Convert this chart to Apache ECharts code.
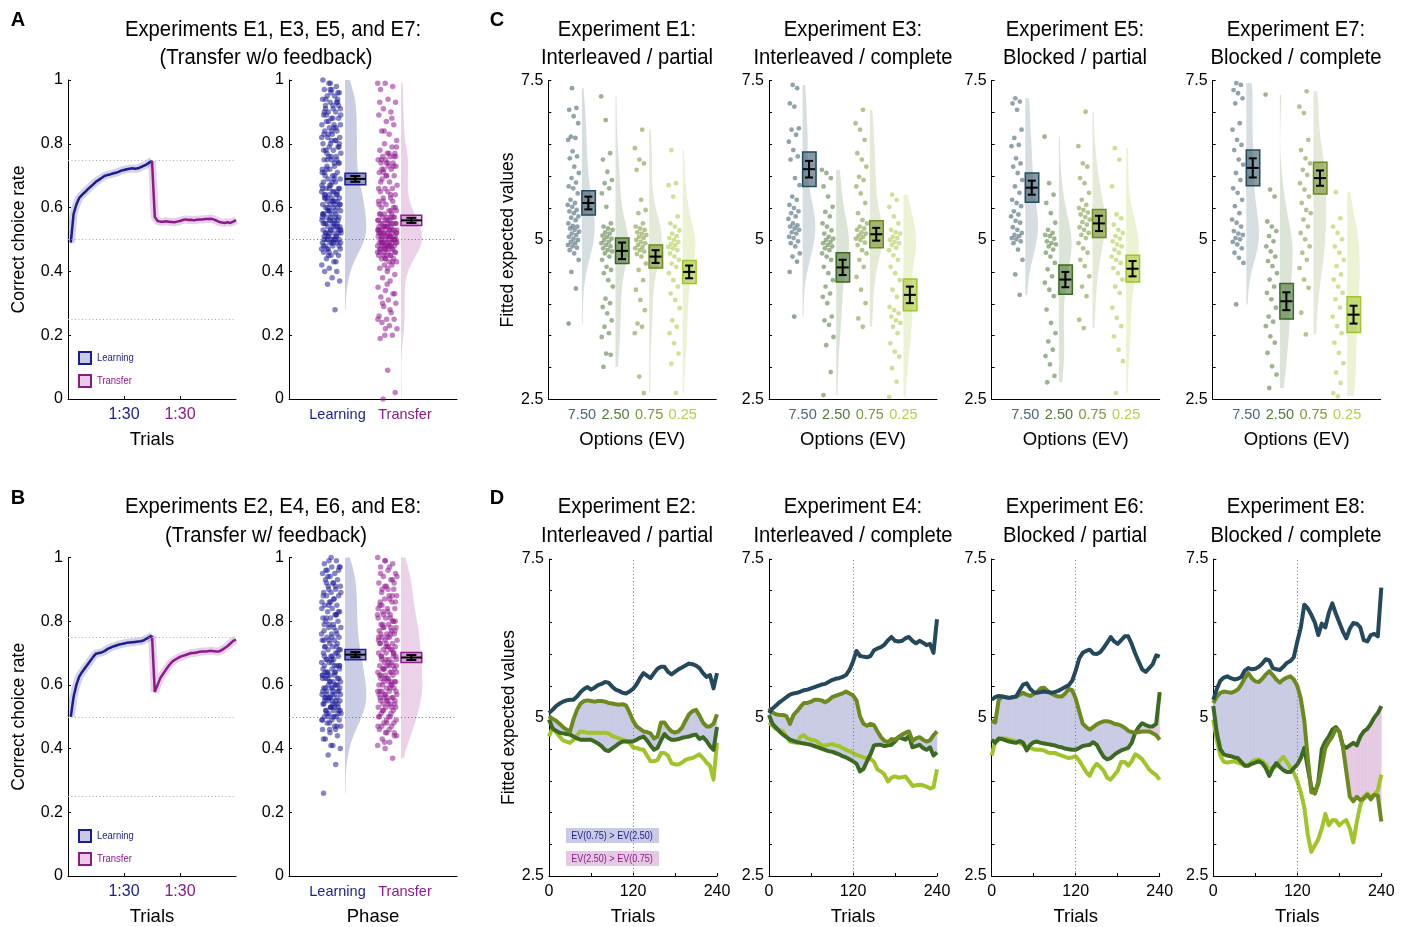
<!DOCTYPE html>
<html>
<head>
<meta charset="utf-8">
<script src="https://cdn.jsdelivr.net/npm/echarts@6/dist/echarts.min.js"></script>
<style>
html,body{margin:0;padding:0;background:#fff;}
#chart{width:1409px;height:927px;}
</style>
</head>
<body>
<div id="chart"></div>
<script>
// ---------- Panel A / B: mean correct choice rate per trial ----------
// learning trials 1..30, transfer trials 1..30 (plotted at 31..60)
const curveA_learning = [0.490,0.580,0.610,0.630,0.640,0.648,0.657,0.665,0.673,0.681,0.687,0.693,0.699,0.702,0.704,0.707,0.709,0.712,0.716,0.718,0.720,0.722,0.723,0.722,0.723,0.727,0.731,0.735,0.741,0.746];
const curveA_transfer = [0.571,0.558,0.556,0.556,0.557,0.556,0.555,0.554,0.556,0.558,0.561,0.563,0.561,0.562,0.560,0.562,0.563,0.563,0.564,0.564,0.565,0.563,0.559,0.555,0.553,0.552,0.554,0.552,0.556,0.561];
const curveB_learning = [0.500,0.563,0.600,0.626,0.640,0.652,0.664,0.676,0.688,0.698,0.700,0.702,0.706,0.712,0.716,0.720,0.723,0.726,0.728,0.730,0.732,0.733,0.734,0.735,0.736,0.737,0.740,0.745,0.750,0.755];
const curveB_transfer = [0.578,0.600,0.622,0.635,0.648,0.660,0.671,0.678,0.683,0.688,0.691,0.694,0.697,0.700,0.700,0.702,0.704,0.705,0.705,0.706,0.707,0.706,0.705,0.705,0.710,0.716,0.722,0.730,0.738,0.742];

// ---------- Panel A / B: per-participant correct choice rates ----------
const rateA_learning = [0.99,0.98,0.97,0.97,0.96,0.95,0.95,0.94,0.93,0.93,0.92,0.92,0.91,0.90,0.90,0.89,0.88,0.88,0.87,0.86,0.86,0.85,0.84,0.84,0.83,0.82,0.82,0.81,0.80,0.80,0.79,0.78,0.78,0.77,0.76,0.76,0.75,0.75,0.74,0.73,0.73,0.72,0.72,0.71,0.70,0.70,0.69,0.69,0.68,0.68,0.67,0.66,0.66,0.65,0.65,0.64,0.64,0.64,0.63,0.63,0.62,0.62,0.61,0.61,0.60,0.60,0.60,0.59,0.59,0.58,0.58,0.58,0.57,0.57,0.56,0.56,0.56,0.55,0.55,0.55,0.54,0.54,0.54,0.53,0.53,0.53,0.52,0.52,0.52,0.51,0.51,0.51,0.50,0.50,0.50,0.50,0.49,0.49,0.49,0.48,0.48,0.47,0.47,0.46,0.46,0.45,0.45,0.44,0.43,0.42,0.41,0.40,0.40,0.38,0.37,0.36,0.28,1.00,0.99,0.96,0.94,0.91,0.89,0.87,0.85,0.83,0.81,0.79,0.77,0.74,0.71,0.67,0.65,0.63,0.62,0.61,0.59,0.57,0.55,0.53,0.52,0.50,0.49,0.47,0.46,0.93,0.90,0.84,0.80,0.75,0.70,0.66,
  0.97,0.94,0.91,0.88,0.86,0.83,0.81,0.78,0.76,0.74,0.72,0.69,0.67,0.66,0.64,0.63,0.62,0.61,0.60,0.59,0.58,0.57,0.56,0.55,0.54,0.53,0.52,0.51,0.50,0.49,0.48,0.47,0.55,0.57,0.59,0.62,0.64,0.65,0.53,0.51,0.50,0.48,0.96,0.92,0.89,0.85,0.82,0.79,0.75,0.71,0.68,0.66,0.63,0.61,0.58,0.56,0.54,0.52,0.50,0.49,0.45,0.43];
const rateA_transfer = [0.99,0.99,0.98,0.97,0.94,0.93,0.91,0.90,0.89,0.87,0.86,0.84,0.83,0.81,0.80,0.79,0.78,0.77,0.77,0.76,0.76,0.75,0.75,0.74,0.74,0.73,0.73,0.72,0.72,0.71,0.70,0.70,0.69,0.68,0.67,0.66,0.66,0.65,0.65,0.64,0.63,0.63,0.62,0.61,0.60,0.60,0.59,0.59,0.58,0.58,0.58,0.57,0.57,0.57,0.56,0.56,0.56,0.55,0.55,0.55,0.55,0.54,0.54,0.54,0.54,0.53,0.53,0.53,0.53,0.52,0.52,0.52,0.52,0.51,0.51,0.51,0.51,0.50,0.50,0.50,0.50,0.50,0.49,0.49,0.49,0.49,0.48,0.48,0.48,0.48,0.47,0.47,0.47,0.46,0.46,0.46,0.45,0.45,0.45,0.44,0.44,0.43,0.43,0.42,0.42,0.41,0.40,0.39,0.38,0.37,0.35,0.34,0.33,0.32,0.31,0.30,0.29,0.27,0.26,0.25,0.25,0.24,0.23,0.22,0.20,0.20,0.19,0.09,0.02,0.00,0.55,0.53,0.51,0.50,0.49,0.48,0.52,0.54,0.47,0.46,0.56,0.50,0.49,0.51,0.53,0.44,0.62,0.68,0.74,0.76,0.71,0.57,0.52,0.48,
  0.50,0.51,0.49,0.52,0.48,0.53,0.47,0.54,0.46,0.55,0.45,0.56,0.44,0.57,0.50,0.51,0.49,0.52,0.48,0.53,0.47,0.50,0.49,0.51,0.46,0.54,0.43,0.58,0.41,0.60,0.62,0.64,0.66,0.70,0.73,0.75,0.77,0.79,0.84,0.88,0.93,0.36,0.33,0.30,0.28,0.25,0.22,0.50,0.52,0.48,0.55,0.45,0.59,0.61,0.74,0.76,0.72,0.53,0.49,0.47];
const rateB_learning = [0.99,0.99,0.98,0.97,0.97,0.96,0.95,0.95,0.94,0.93,0.93,0.92,0.91,0.91,0.90,0.89,0.89,0.88,0.88,0.87,0.86,0.86,0.85,0.85,0.84,0.83,0.83,0.82,0.81,0.81,0.80,0.80,0.79,0.78,0.78,0.77,0.77,0.76,0.75,0.75,0.74,0.74,0.73,0.73,0.72,0.72,0.71,0.71,0.70,0.70,0.69,0.69,0.68,0.68,0.67,0.67,0.66,0.66,0.65,0.65,0.64,0.64,0.63,0.63,0.62,0.62,0.61,0.61,0.60,0.60,0.59,0.59,0.58,0.58,0.57,0.57,0.56,0.56,0.56,0.55,0.55,0.55,0.54,0.54,0.53,0.53,0.52,0.52,0.51,0.51,0.50,0.50,0.49,0.49,0.48,0.47,0.46,0.45,0.44,0.43,0.41,0.40,0.38,0.35,0.26,1.00,0.96,0.92,0.87,0.84,0.79,0.76,0.72,0.69,0.66,0.63,0.60,0.58,0.56,0.54,0.52,0.50,0.47,0.90,0.82,0.74,0.68,0.62,0.57,0.53,0.49,0.46,0.70,0.64,0.59,
  0.97,0.94,0.91,0.88,0.86,0.83,0.81,0.78,0.76,0.74,0.72,0.69,0.67,0.66,0.64,0.63,0.62,0.61,0.60,0.59,0.58,0.57,0.56,0.55,0.54,0.53,0.52,0.51,0.50,0.49,0.48,0.47,0.55,0.57,0.59,0.62,0.64,0.65,0.53,0.51,0.96,0.92,0.89,0.85,0.82,0.79,0.75,0.71,0.68,0.66,0.63,0.61,0.58,0.56,0.54,0.52,0.50,0.46,0.43,0.41];
const rateB_transfer = [1.00,0.99,0.98,0.97,0.96,0.95,0.94,0.93,0.92,0.91,0.90,0.89,0.88,0.88,0.87,0.86,0.85,0.84,0.84,0.83,0.82,0.81,0.81,0.80,0.79,0.79,0.78,0.78,0.77,0.77,0.76,0.76,0.75,0.75,0.74,0.74,0.73,0.73,0.72,0.72,0.71,0.71,0.70,0.70,0.69,0.69,0.68,0.68,0.67,0.67,0.66,0.66,0.65,0.65,0.64,0.64,0.63,0.63,0.62,0.62,0.61,0.61,0.60,0.60,0.59,0.59,0.58,0.58,0.57,0.57,0.56,0.56,0.55,0.55,0.54,0.54,0.53,0.53,0.52,0.51,0.50,0.49,0.48,0.47,0.46,0.45,0.44,0.43,0.42,0.41,0.40,0.37,0.95,0.90,0.86,0.82,0.78,0.75,0.73,0.70,0.68,0.66,0.64,0.62,0.60,0.58,0.56,0.54,0.52,0.50,0.47,0.45,0.80,0.76,0.72,0.69,0.65,0.61,0.57,0.55,0.92,0.85,
  0.97,0.94,0.91,0.88,0.86,0.83,0.80,0.78,0.76,0.74,0.72,0.70,0.69,0.67,0.66,0.65,0.64,0.63,0.62,0.61,0.60,0.59,0.58,0.57,0.56,0.55,0.54,0.53,0.52,0.51,0.50,0.49,0.48,0.47,0.46,0.44,0.42,0.71,0.73,0.75,0.77,0.79,0.81,0.84,0.68,0.66,0.63,0.61,0.58,0.56,0.53,0.50,0.48,0.45,0.90,0.87,0.82,0.99,0.93];
// group summaries: [learning, transfer]
const meanA = [0.690, 0.560], semA = [0.009, 0.008], ciA = [0.018, 0.016];
const meanB = [0.695, 0.686], semB = [0.008, 0.008], ciB = [0.016, 0.016];

// ---------- Panel C: fitted expected values per option ----------
const optionLabels = ['7.50','2.50','0.75','0.25'];
const e1_750 = [7.38,7.07,7.04,6.94,6.83,6.62,6.60,6.57,6.39,6.31,6.28,6.15,6.05,5.97,5.90,5.84,5.81,5.73,5.63,5.58,5.55,5.52,5.47,5.45,5.42,5.37,5.35,5.31,5.26,5.22,5.21,5.18,5.16,5.13,5.10,5.08,5.05,5.02,5.00,4.97,4.95,4.92,4.90,4.88,4.84,4.79,4.69,4.50,4.24,3.69];
const e1_250 = [7.25,6.88,6.36,6.26,6.07,5.94,5.89,5.81,5.73,5.52,5.26,5.21,5.18,5.16,5.12,5.10,5.07,5.05,5.02,5.00,4.97,4.95,4.92,4.90,4.87,4.84,4.82,4.79,4.74,4.69,4.58,4.53,4.48,4.37,4.27,4.08,4.01,3.95,3.85,3.74,3.64,3.54,3.48,3.22,3.20,3.01];
const e1_075 = [6.73,6.44,6.26,6.20,6.10,5.63,5.47,5.42,5.26,5.21,5.18,5.16,5.12,5.10,5.08,5.05,5.03,5.00,4.97,4.95,4.92,4.89,4.87,4.84,4.82,4.78,4.74,4.63,4.53,4.37,4.22,4.06,3.90,3.69,3.64,3.54,2.86,2.60];
const e1_025 = [6.41,5.89,5.86,5.68,5.37,5.26,5.21,5.15,5.10,5.06,5.03,5.00,4.97,4.94,4.92,4.89,4.87,4.84,4.79,4.74,4.69,4.63,4.58,4.48,4.37,4.27,4.16,4.06,3.93,3.74,3.64,3.54,3.38,3.22,3.06,2.60];
const e3_750 = [7.43,7.38,7.14,7.09,6.75,6.73,6.65,6.54,6.41,6.31,6.26,5.97,5.86,5.68,5.63,5.55,5.50,5.45,5.42,5.37,5.33,5.26,5.23,5.21,5.18,5.16,5.12,5.10,5.05,5.03,4.98,4.95,4.90,4.79,4.74,4.66,4.50,3.80];
const e3_250 = [6.10,6.05,5.97,5.84,5.68,5.52,5.44,5.37,5.26,5.21,5.15,5.10,5.05,5.02,5.00,4.97,4.95,4.92,4.90,4.87,4.84,4.79,4.74,4.69,4.58,4.48,4.37,4.27,4.16,4.11,4.01,3.80,3.74,3.67,3.48,3.35,2.93,2.57];
const e3_075 = [7.04,6.83,6.73,6.57,6.36,6.26,6.15,5.99,5.94,5.84,5.73,5.58,5.42,5.31,5.26,5.21,5.18,5.16,5.12,5.10,5.07,5.05,5.02,5.00,4.96,4.92,4.84,4.79,4.69,4.58,4.42,4.22,4.01,3.77,3.64];
const e3_025 = [5.71,5.63,5.52,5.37,5.26,5.16,5.12,5.10,5.05,5.03,5.00,4.97,4.95,4.92,4.88,4.84,4.76,4.69,4.58,4.48,4.37,4.22,4.11,3.95,3.90,3.85,3.80,3.74,3.70,3.64,3.54,3.38,3.25,3.17,2.99,2.78,2.54];
const e5_750 = [7.22,7.17,7.14,7.04,6.73,6.60,6.49,6.47,6.28,6.20,6.15,6.05,5.94,5.84,5.74,5.63,5.58,5.53,5.45,5.40,5.37,5.30,5.27,5.20,5.16,5.11,5.08,5.06,5.03,5.01,4.98,4.95,4.85,4.69,4.46,4.14];
const e5_250 = [6.62,5.89,5.71,5.58,5.42,5.27,5.16,5.11,5.08,5.06,5.02,4.98,4.95,4.93,4.90,4.85,4.80,4.74,4.64,4.54,4.43,4.33,4.22,4.12,3.91,3.70,3.54,3.41,3.28,3.18,3.05,2.87,2.77];
const e5_075 = [7.01,6.47,6.20,6.15,5.97,5.89,5.74,5.63,5.55,5.50,5.47,5.43,5.40,5.36,5.32,5.28,5.24,5.20,5.16,5.11,5.08,5.03,4.95,4.87,4.80,4.69,4.59,4.43,4.27,4.12,3.75,3.62];
const e5_025 = [6.44,6.26,5.84,5.40,5.34,5.24,5.16,5.11,5.06,5.02,4.98,4.93,4.90,4.85,4.80,4.74,4.69,4.64,4.56,4.48,4.38,4.27,4.17,3.94,3.78,3.65,3.49,3.28,3.10,2.60];
const e7_750 = [7.46,7.43,7.35,7.30,7.22,7.14,6.83,6.73,6.57,6.49,6.41,6.26,6.18,6.05,5.94,5.81,5.74,5.63,5.53,5.42,5.32,5.27,5.21,5.14,5.10,5.08,5.03,5.01,4.97,4.93,4.87,4.80,4.72,4.64,3.99];
const e7_250 = [7.28,5.79,5.68,5.29,5.21,5.14,5.06,4.98,4.90,4.82,4.74,4.67,4.59,4.48,4.38,4.27,4.17,4.07,3.94,3.80,3.72,3.65,3.49,3.39,3.23,3.02,2.89,2.68];
const e7_075 = [7.33,7.09,6.99,6.57,6.41,6.28,6.20,6.10,6.02,5.89,5.79,5.68,5.58,5.47,5.42,5.32,5.21,5.11,5.01,4.90,4.80,4.69,4.56,4.38,4.25,3.86,3.52];
const e7_025 = [5.75,5.34,5.21,5.11,5.01,4.90,4.80,4.69,4.59,4.46,4.38,4.27,4.17,4.07,3.94,3.80,3.65,3.54,3.39,3.23,3.07,2.92,2.76,2.60,2.55];
// option summaries in order 7.50, 2.50, 0.75, 0.25
const meanE1 = [5.58,4.83,4.74,4.50], semE1 = [0.10,0.13,0.10,0.10], ciE1 = [0.19,0.20,0.18,0.18];
const meanE3 = [6.11,4.57,5.09,4.14], semE3 = [0.13,0.12,0.10,0.13], ciE3 = [0.27,0.23,0.21,0.25];
const meanE5 = [5.82,4.38,5.26,4.55], semE5 = [0.11,0.12,0.12,0.12], ciE5 = [0.23,0.23,0.22,0.21];
const meanE7 = [6.13,4.04,5.97,3.83], semE7 = [0.15,0.14,0.12,0.14], ciE7 = [0.28,0.28,0.25,0.28];

// ---------- Panel D: fitted expected values across trials (every 5th trial, 0..240) ----------
const trialStep = 5;
const e2_750 = [5.07,5.12,5.18,5.22,5.25,5.27,5.28,5.28,5.33,5.40,5.45,5.48,5.44,5.47,5.51,5.53,5.56,5.55,5.49,5.44,5.42,5.39,5.38,5.41,5.45,5.52,5.62,5.70,5.66,5.62,5.70,5.77,5.80,5.80,5.72,5.68,5.72,5.76,5.79,5.82,5.85,5.84,5.82,5.78,5.70,5.64,5.67,5.46,5.70];
const e2_250 = [4.97,4.83,4.79,4.76,4.75,4.74,4.73,4.70,4.67,4.65,4.65,4.65,4.65,4.62,4.59,4.55,4.49,4.47,4.51,4.55,4.59,4.62,4.62,4.62,4.62,4.65,4.68,4.70,4.64,4.56,4.49,4.52,4.64,4.74,4.68,4.65,4.65,4.66,4.68,4.69,4.70,4.72,4.73,4.66,4.69,4.63,4.55,4.49,4.85];
const e2_075 = [5.02,4.98,4.95,4.90,4.85,4.81,4.78,4.97,5.12,5.22,5.26,5.27,5.26,5.25,5.26,5.26,5.25,5.23,5.22,5.21,5.20,5.21,5.19,5.08,4.95,4.86,4.82,4.78,4.77,4.75,4.67,4.70,4.92,4.92,4.84,4.78,4.76,4.78,4.84,4.95,5.05,5.10,5.12,5.03,4.92,4.86,4.86,4.90,5.05];
const e2_025 = [4.70,4.84,4.77,4.70,4.64,4.62,4.60,4.65,4.72,4.78,4.77,4.76,4.76,4.76,4.76,4.76,4.76,4.75,4.71,4.69,4.67,4.65,4.63,4.60,4.53,4.52,4.50,4.49,4.40,4.31,4.31,4.33,4.44,4.44,4.40,4.28,4.26,4.26,4.29,4.33,4.35,4.36,4.39,4.42,4.36,4.29,4.24,4.02,4.60];
const e4_750 = [5.07,5.14,5.19,5.24,5.28,5.32,5.36,5.38,5.39,5.41,5.43,5.44,5.46,5.48,5.50,5.52,5.53,5.56,5.59,5.61,5.62,5.64,5.67,5.75,5.88,6.05,5.97,5.96,5.95,5.97,6.06,6.09,6.11,6.15,6.22,6.27,6.21,6.20,6.21,6.25,6.27,6.21,6.17,6.21,6.18,6.14,6.16,6.02,6.55];
const e4_250 = [5.04,4.90,4.84,4.78,4.73,4.69,4.65,4.63,4.61,4.60,4.59,4.58,4.57,4.55,4.53,4.51,4.49,4.47,4.46,4.44,4.42,4.39,4.37,4.34,4.31,4.27,4.15,4.19,4.31,4.42,4.56,4.57,4.57,4.55,4.56,4.57,4.62,4.69,4.67,4.65,4.71,4.53,4.55,4.57,4.52,4.49,4.53,4.40,4.45];
const e4_075 = [5.15,5.08,5.05,5.04,5.04,5.02,4.90,5.04,5.10,5.17,5.23,5.23,5.25,5.28,5.28,5.27,5.24,5.27,5.32,5.34,5.36,5.38,5.41,5.38,5.35,5.27,5.02,4.90,4.87,4.90,4.88,4.78,4.69,4.63,4.61,4.66,4.65,4.69,4.73,4.76,4.78,4.63,4.67,4.69,4.65,4.62,4.64,4.72,4.78];
const e4_025 = [4.92,4.87,4.82,4.80,4.78,4.70,4.62,4.61,4.60,4.70,4.72,4.67,4.65,4.64,4.61,4.56,4.56,4.57,4.58,4.56,4.55,4.52,4.49,4.47,4.44,4.41,4.39,4.37,4.36,4.35,4.30,4.18,4.15,4.10,3.99,4.05,4.07,4.05,4.06,4.07,4.00,3.92,3.93,3.94,3.93,3.91,3.88,3.90,4.18];
const e6_750 = [5.28,5.32,5.34,5.33,5.32,5.31,5.32,5.33,5.43,5.52,5.54,5.45,5.40,5.39,5.40,5.41,5.40,5.39,5.40,5.42,5.45,5.48,5.51,5.58,5.74,5.93,6.02,6.05,6.07,6.01,6.00,6.03,6.10,6.18,6.27,6.20,6.16,6.22,6.28,6.28,6.16,6.01,5.88,5.76,5.72,5.78,5.84,5.98,5.96];
const e6_250 = [4.65,4.60,4.67,4.66,4.64,4.62,4.61,4.60,4.63,4.60,4.48,4.57,4.61,4.62,4.60,4.59,4.58,4.57,4.56,4.54,4.53,4.51,4.50,4.49,4.49,4.52,4.55,4.56,4.57,4.61,4.57,4.47,4.38,4.34,4.36,4.41,4.45,4.48,4.50,4.52,4.60,4.76,4.85,4.91,4.88,4.86,4.86,4.90,5.40];
const e6_075 = [4.95,4.92,5.28,5.33,5.32,5.31,5.32,5.33,5.36,5.39,5.36,5.34,5.37,5.40,5.46,5.47,5.42,5.38,5.35,5.33,5.33,5.38,5.45,5.43,5.30,5.10,4.90,4.85,4.81,4.85,4.89,4.92,4.94,4.94,4.93,4.90,4.89,4.87,4.84,4.79,4.77,4.76,4.77,4.78,4.78,4.78,4.75,4.72,4.65];
const e6_025 = [4.40,4.62,4.65,4.67,4.67,4.65,4.64,4.62,4.60,4.57,4.54,4.52,4.50,4.49,4.49,4.48,4.45,4.44,4.44,4.42,4.40,4.38,4.36,4.37,4.39,4.32,4.23,4.14,4.08,4.20,4.27,4.22,4.16,4.05,4.02,4.09,4.16,4.30,4.30,4.24,4.31,4.42,4.39,4.34,4.26,4.18,4.13,4.09,4.02];
const e8_750 = [5.28,5.45,5.58,5.63,5.65,5.62,5.60,5.61,5.64,5.74,5.78,5.76,5.77,5.80,5.85,5.92,5.90,5.78,5.76,5.75,5.80,5.86,5.89,5.95,6.20,6.42,6.78,6.72,6.62,6.50,6.30,6.48,6.42,6.65,6.80,6.64,6.50,6.36,6.25,6.40,6.49,6.48,6.42,6.22,6.20,6.30,6.32,6.28,7.05];
const e8_250 = [5.18,4.76,4.50,4.42,4.40,4.39,4.37,4.36,4.30,4.24,4.24,4.27,4.29,4.31,4.28,4.20,4.08,4.20,4.28,4.22,4.17,4.14,4.14,4.20,4.26,4.36,4.52,4.20,3.90,3.80,3.98,4.50,4.62,4.70,4.81,4.85,4.78,4.56,4.52,4.56,4.60,4.56,4.70,4.78,4.82,4.90,5.00,5.07,5.18];
const e8_075 = [5.23,5.33,5.39,5.41,5.40,5.39,5.41,5.44,5.52,5.62,5.70,5.62,5.57,5.56,5.61,5.68,5.73,5.67,5.60,5.55,5.60,5.63,5.65,5.60,5.50,5.30,4.95,4.35,3.82,3.81,3.95,4.22,4.52,4.62,4.70,4.82,4.78,4.55,4.15,3.75,3.68,3.75,3.70,3.72,3.78,3.71,3.78,3.77,3.36];
const e8_025 = [4.97,4.64,4.40,4.30,4.29,4.30,4.31,4.29,4.27,4.24,4.25,4.30,4.33,4.34,4.31,4.26,4.18,4.20,4.23,4.32,4.38,4.30,4.21,4.13,4.00,3.82,3.58,3.15,2.88,2.98,3.08,3.25,3.48,3.30,3.38,3.38,3.30,3.35,3.38,3.25,3.03,3.35,3.62,3.75,3.80,3.75,3.78,3.85,4.10];

// ---------- styling ----------
const FONT = "'Liberation Sans',Arial,sans-serif";
const NARROW = 0.9;            // horizontal squeeze for the condensed-looking headings
const BLUE = '#1c1c8e', PURPLE = '#8b1b8b';
const OPT_COL = ['#24495c', '#3c6a22', '#6c8a1f', '#a0c42a'];
const FILL_UP = '#c9cae4', FILL_DOWN = '#e5c9e3';
const GOLD = 0.6180339887;
const TICK_FS = 16, NAME_X_FS = 18.5, NAME_Y_FS = 17.5;

const grids = [], xAxes = [], yAxes = [], series = [], graphics = [];

function addGrid(left, top, width, height) {
  grids.push({ left, top, width, height });
  return grids.length - 1;
}
function labelStyle(extra) {
  return Object.assign({ fontFamily: FONT, fontSize: TICK_FS, color: '#000', margin: 5 }, extra || {});
}
function baseAxis(gi, extra, nameSize) {
  return Object.assign({
    gridIndex: gi, type: 'value',
    axisLine: { show: true, onZero: false, lineStyle: { color: '#000', width: 1 } },
    splitLine: { show: false },
    axisTick: { show: true, inside: true, length: 3, lineStyle: { color: '#000' } },
    axisLabel: labelStyle(),
    nameLocation: 'middle',
    nameTextStyle: { fontFamily: FONT, fontSize: nameSize, color: '#000' }
  }, extra);
}
function addX(gi, extra) { xAxes.push(baseAxis(gi, extra, NAME_X_FS)); return xAxes.length - 1; }
function addY(gi, extra) { yAxes.push(baseAxis(gi, extra, NAME_Y_FS)); return yAxes.length - 1; }

function text(x, y, s, size, extra, sx) {
  graphics.push({
    type: 'text', x, y, silent: true, scaleX: sx || 1,
    style: Object.assign({ text: s, fontFamily: FONT, fontSize: size, fill: '#000', align: 'center', verticalAlign: 'middle' }, extra || {})
  });
}

// half violin outline from a gaussian kernel density of the values
function violinPoly(vals, base, bw, width) {
  const lo = Math.min.apply(null, vals), hi = Math.max.apply(null, vals);
  const n = 80, ys = [], ds = [];
  for (let k = 0; k <= n; k++) {
    const y = lo + (hi - lo) * k / n;
    let d = 0;
    for (const v of vals) { const z = (y - v) / bw; d += Math.exp(-0.5 * z * z); }
    ys.push(y); ds.push(d);
  }
  const dm = Math.max.apply(null, ds);
  const pts = [[base, lo]];
  ys.forEach((y, k) => pts.push([base + width * ds[k] / dm, y]));
  pts.push([base, hi]);
  return pts;
}

// raincloud pieces: violins, jittered dots, mean box with error bar
function addRaincloud(xi, yi, groups, opts) {
  const polys = groups.map(g => violinPoly(g.vals, g.base, opts.bw, opts.vWidth));
  const mid = opts.mid;
  series.push({
    type: 'custom', xAxisIndex: xi, yAxisIndex: yi, silent: true, z: 1,
    data: groups.map(g => [g.base, mid]),
    renderItem(params, api) {
      const g = groups[params.dataIndex];
      return { type: 'polygon', shape: { points: polys[params.dataIndex].map(p => api.coord(p)) },
               style: { fill: g.violin } };
    }
  });
  groups.forEach((g, gi) => {
    series.push({
      type: 'scatter', xAxisIndex: xi, yAxisIndex: yi, silent: true, z: 2,
      symbolSize: opts.dot,
      itemStyle: { color: g.color, opacity: opts.dotOpacity },
      data: g.vals.map((v, i) => [g.base - opts.jit0 - opts.jitW * (((i + 1) * GOLD + gi * 0.37) % 1), v]),
      markLine: g.markLine
    });
  });
  series.push({
    type: 'custom', xAxisIndex: xi, yAxisIndex: yi, silent: true, z: 4,
    data: groups.map(g => [g.base, g.mean]),
    renderItem(params, api) {
      const g = groups[params.dataIndex];
      const bw = opts.boxW;
      const tl = api.coord([g.base, g.mean + g.ci]);
      const br = api.coord([g.base + bw, g.mean - g.ci]);
      const xc = api.coord([g.base + bw * opts.errPos, g.mean])[0];
      const cap = opts.cap;
      const yTop = api.coord([g.base, g.mean + g.sem])[1];
      const yBot = api.coord([g.base, g.mean - g.sem])[1];
      const yMean = api.coord([g.base, g.mean])[1];
      const ls = { stroke: '#000', lineWidth: 2 };
      const ml = opts.meanFull ? { x1: tl[0], x2: br[0] } : { x1: xc - cap - 2, x2: xc + cap + 2 };
      return { type: 'group', children: [
        { type: 'rect', shape: { x: tl[0], y: tl[1], width: br[0] - tl[0], height: br[1] - tl[1] },
          style: { fill: g.boxFill, stroke: g.color, lineWidth: 1.5 } },
        { type: 'line', shape: { x1: xc, y1: yTop, x2: xc, y2: yBot }, style: ls },
        { type: 'line', shape: { x1: xc - cap, y1: yTop, x2: xc + cap, y2: yTop }, style: ls },
        { type: 'line', shape: { x1: xc - cap, y1: yBot, x2: xc + cap, y2: yBot }, style: ls },
        { type: 'line', shape: { x1: ml.x1, y1: yMean, x2: ml.x2, y2: yMean }, style: ls }
      ] };
    }
  });
}

function dottedLines(key, vals, color) {
  return {
    silent: true, symbol: 'none', label: { show: false }, animation: false,
    lineStyle: { type: [1, 2.5], color: color || '#aaa', width: 1 },
    data: vals.map(v => ({ [key]: v }))
  };
}

// ----- Panel A/B left: choice rate over trials -----
function curvePanel(top, learn, trans, legendY) {
  const gi = addGrid(68, top, 168, 319);
  const xi = addX(gi, {
    min: 0, max: 60, name: 'Trials', nameGap: 31,
    axisTick: { show: true, inside: true, length: 3, lineStyle: { color: '#000' }, customValues: [20, 40] },
    axisLabel: labelStyle({ margin: 8, customValues: [20, 40],
      formatter: v => v === 20 ? '{l|1:30}' : '{t|1:30}',
      rich: { l: { color: BLUE, fontFamily: FONT, fontSize: TICK_FS }, t: { color: PURPLE, fontFamily: FONT, fontSize: TICK_FS } } })
  });
  const yi = addY(gi, { min: 0, max: 1, interval: 0.2, name: 'Correct choice rate', nameGap: 40 });
  const lData = learn.map((v, i) => [i + 1, v]);
  const tData = [[learn.length, learn[learn.length - 1]]].concat(trans.map((v, i) => [i + 31, v]));
  series.push({ type: 'line', xAxisIndex: xi, yAxisIndex: yi, data: lData, showSymbol: false, silent: true, z: 2,
    lineStyle: { width: 8, color: BLUE, opacity: 0.2 }, markLine: dottedLines('yAxis', [0.25, 0.5, 0.75]) });
  series.push({ type: 'line', xAxisIndex: xi, yAxisIndex: yi, data: tData, showSymbol: false, silent: true, z: 2,
    lineStyle: { width: 8, color: PURPLE, opacity: 0.2 } });
  series.push({ type: 'line', xAxisIndex: xi, yAxisIndex: yi, data: lData, showSymbol: false, silent: true, z: 3,
    lineStyle: { width: 2.5, color: BLUE } });
  series.push({ type: 'line', xAxisIndex: xi, yAxisIndex: yi, data: tData, showSymbol: false, silent: true, z: 3,
    lineStyle: { width: 2.5, color: PURPLE } });
  // legend
  graphics.push({ type: 'rect', silent: true, shape: { x: 79, y: legendY, width: 12, height: 12 },
    style: { fill: '#c8c9e6', stroke: BLUE, lineWidth: 2 } });
  graphics.push({ type: 'rect', silent: true, shape: { x: 79, y: legendY + 23, width: 12, height: 12 },
    style: { fill: '#e9cbe7', stroke: PURPLE, lineWidth: 2 } });
  text(97, legendY + 6, 'Learning', 11, { align: 'left', fill: BLUE }, 0.86);
  text(97, legendY + 29, 'Transfer', 11, { align: 'left', fill: PURPLE }, 0.86);
}

// ----- Panel A/B right: raincloud per phase -----
function phasePanel(top, learnVals, transVals, mean, sem, ci, xName) {
  const gi = addGrid(289, top, 168, 319);
  const xi = addX(gi, {
    min: 0, max: 3, name: xName || '', nameGap: 31,
    axisTick: { show: false },
    axisLabel: labelStyle({ margin: 8, customValues: [1, 2],
      formatter: v => v === 1 ? '{l|Learning}' : '{t|Transfer}',
      rich: { l: { color: BLUE, fontFamily: FONT, fontSize: 14.5, padding: [0, 15, 0, 0] },
              t: { color: PURPLE, fontFamily: FONT, fontSize: 14.5, padding: [0, 0, 0, 8] } } })
  });
  const yi = addY(gi, { min: 0, max: 1, interval: 0.2 });
  addRaincloud(xi, yi, [
    { base: 1, vals: learnVals, color: '#20209a', violin: '#cbcde5', boxFill: 'rgba(28,28,142,0.45)', mean: mean[0], sem: sem[0], ci: ci[0] },
    { base: 2, vals: transVals, color: '#911c91', violin: '#ebd2e9', boxFill: 'rgba(139,27,139,0.25)', mean: mean[1], sem: sem[1], ci: ci[1],
      markLine: dottedLines('yAxis', [0.5], '#777') }
  ], { bw: 0.045, vWidth: 0.38, mid: 0.5, dot: 5.5, dotOpacity: 0.55, jit0: 0.07, jitW: 0.35, boxW: 0.37, errPos: 0.5, cap: 5, meanFull: true });
}

// ----- Panel C: fitted values per option -----
function optionPanel(left, groups, mean, sem, ci, yName, titles) {
  const gi = addGrid(left, 80.5, 168, 319);
  const rs = c => ({ color: c, fontFamily: FONT, fontSize: 14.5 });
  const xi = addX(gi, {
    min: 0, max: 5, name: 'Options (EV)', nameGap: 31,
    axisTick: { show: false },
    axisLabel: labelStyle({ margin: 8, customValues: [1, 2, 3, 4],
      formatter: v => '{o' + v + '|' + optionLabels[v - 1] + '}',
      rich: { o1: rs('#48697a'), o2: rs('#547a3c'), o3: rs('#7f983a'), o4: rs('#b4cf48') } })
  });
  const yi = addY(gi, {
    min: 2.5, max: 7.5, interval: 0.5, name: yName || '', nameGap: 30,
    axisLabel: labelStyle({ customValues: [2.5, 5, 7.5] })
  });
  addRaincloud(xi, yi, groups.map((vals, k) => ({
    base: k + 1, vals, color: OPT_COL[k], violin: echarts.color.modifyAlpha(OPT_COL[k], k === 3 ? 0.2 : 0.18),
    boxFill: echarts.color.modifyAlpha(OPT_COL[k], 0.55), mean: mean[k], sem: sem[k], ci: ci[k]
  })), { bw: 0.34, vWidth: 0.38, mid: 5, dot: 4.8, dotOpacity: 0.5, jit0: 0.08, jitW: 0.35, boxW: 0.4, errPos: 0.48, cap: 4, meanFull: false });
  text(titles[0], 30, titles[1], 22.5, null, NARROW);
  text(titles[0], 58, titles[2], 22.5, null, NARROW);
}

// ----- Panel D: trajectories of fitted values -----
function trajectoryPanel(left, lines, yName, titles, legend) {
  const gi = addGrid(left, 559, 168, 318);
  const xi = addX(gi, {
    min: 0, max: 240, interval: 60, name: 'Trials', nameGap: 31,
    axisLabel: labelStyle({ margin: 8, customValues: [0, 120, 240] })
  });
  const yi = addY(gi, {
    min: 2.5, max: 7.5, interval: 0.5, name: yName || '', nameGap: 30,
    axisLabel: labelStyle({ customValues: [2.5, 5, 7.5] })
  });
  const trials = lines[0].map((_, i) => i * trialStep);
  const hi = lines[2], lo = lines[1]; // EV(0.75) vs EV(2.50)
  series.push({
    type: 'custom', xAxisIndex: xi, yAxisIndex: yi, silent: true, z: 1,
    data: trials.slice(0, -1).map(t => [t, 5]),
    renderItem(params, api) {
      const i = params.dataIndex;
      const x0 = trials[i], x1 = trials[i + 1];
      const a0 = hi[i], a1 = hi[i + 1], b0 = lo[i], b1 = lo[i + 1];
      const d0 = a0 - b0, d1 = a1 - b1;
      const P = (x, y) => api.coord([x, y]);
      const st = c => ({ fill: c, stroke: c, lineWidth: 0.6 });
      if (d0 * d1 >= 0) {
        const c = (d0 + d1) >= 0 ? FILL_UP : FILL_DOWN;
        return { type: 'polygon', shape: { points: [P(x0, a0), P(x1, a1), P(x1, b1), P(x0, b0)] }, style: st(c) };
      }
      const t = d0 / (d0 - d1), xc = x0 + t * (x1 - x0), yc = a0 + t * (a1 - a0);
      return { type: 'group', children: [
        { type: 'polygon', shape: { points: [P(x0, a0), P(xc, yc), P(x0, b0)] }, style: st(d0 >= 0 ? FILL_UP : FILL_DOWN) },
        { type: 'polygon', shape: { points: [P(xc, yc), P(x1, a1), P(x1, b1)] }, style: st(d1 >= 0 ? FILL_UP : FILL_DOWN) }
      ] };
    }
  });
  [3, 1, 2, 0].forEach((k, order) => {
    series.push({
      type: 'line', xAxisIndex: xi, yAxisIndex: yi, silent: true, z: 2 + order, showSymbol: false,
      data: lines[k].map((v, i) => [trials[i], v]),
      lineStyle: { width: 4, color: OPT_COL[k], join: 'round' },
      markLine: order === 0 ? dottedLines('xAxis', [120], '#777') : undefined
    });
  });
  text(titles[0], 507, titles[1], 22.5, null, NARROW);
  text(titles[0], 536, titles[2], 22.5, null, NARROW);
  if (legend) {
    graphics.push({ type: 'rect', silent: true, shape: { x: 566, y: 828, width: 93, height: 15 }, style: { fill: FILL_UP } });
    graphics.push({ type: 'rect', silent: true, shape: { x: 566, y: 851, width: 93, height: 15 }, style: { fill: FILL_DOWN } });
    text(612, 836, 'EV(0.75) > EV(2.50)', 11, { fill: BLUE }, 0.82);
    text(612, 859, 'EV(2.50) > EV(0.75)', 11, { fill: PURPLE }, 0.82);
  }
}

// ---------- assemble ----------
const chart = echarts.init(document.getElementById('chart'), null, { renderer: 'canvas' });

curvePanel(80, curveA_learning, curveA_transfer, 352);
phasePanel(80, rateA_learning, rateA_transfer, meanA, semA, ciA, '');
curvePanel(557.5, curveB_learning, curveB_transfer, 830);
phasePanel(557.5, rateB_learning, rateB_transfer, meanB, semB, ciB, 'Phase');

optionPanel(548.3, [e1_750, e1_250, e1_075, e1_025], meanE1, semE1, ciE1, 'Fitted expected values', [627, 'Experiment E1:', 'Interleaved / partial']);
optionPanel(769, [e3_750, e3_250, e3_075, e3_025], meanE3, semE3, ciE3, '', [853, 'Experiment E3:', 'Interleaved / complete']);
optionPanel(991.7, [e5_750, e5_250, e5_075, e5_025], meanE5, semE5, ciE5, '', [1075, 'Experiment E5:', 'Blocked / partial']);
optionPanel(1212.7, [e7_750, e7_250, e7_075, e7_025], meanE7, semE7, ciE7, '', [1296, 'Experiment E7:', 'Blocked / complete']);

trajectoryPanel(549, [e2_750, e2_250, e2_075, e2_025], 'Fitted expected values', [627, 'Experiment E2:', 'Interleaved / partial'], true);
trajectoryPanel(769, [e4_750, e4_250, e4_075, e4_025], '', [853, 'Experiment E4:', 'Interleaved / complete'], false);
trajectoryPanel(991.7, [e6_750, e6_250, e6_075, e6_025], '', [1075, 'Experiment E6:', 'Blocked / partial'], false);
trajectoryPanel(1213.3, [e8_750, e8_250, e8_075, e8_025], '', [1296, 'Experiment E8:', 'Blocked / complete'], false);

// section titles and letters
text(273, 30, 'Experiments E1, E3, E5, and E7:', 22.5, null, NARROW);
text(266, 58, '(Transfer w/o feedback)', 22.5, null, NARROW);
text(273, 507, 'Experiments E2, E4, E6, and E8:', 22.5, null, NARROW);
text(266, 536, '(Transfer w/ feedback)', 22.5, null, NARROW);
const letterStyle = { fontWeight: 'bold' };
text(18, 20, 'A', 20, letterStyle);
text(18, 498, 'B', 20, letterStyle);
text(497, 20, 'C', 20, letterStyle);
text(497, 498, 'D', 20, letterStyle);

chart.setOption({
  animation: false,
  backgroundColor: '#fff',
  grid: grids, xAxis: xAxes, yAxis: yAxes, series: series,
  graphic: { elements: graphics }
});
</script>
</body>
</html>
